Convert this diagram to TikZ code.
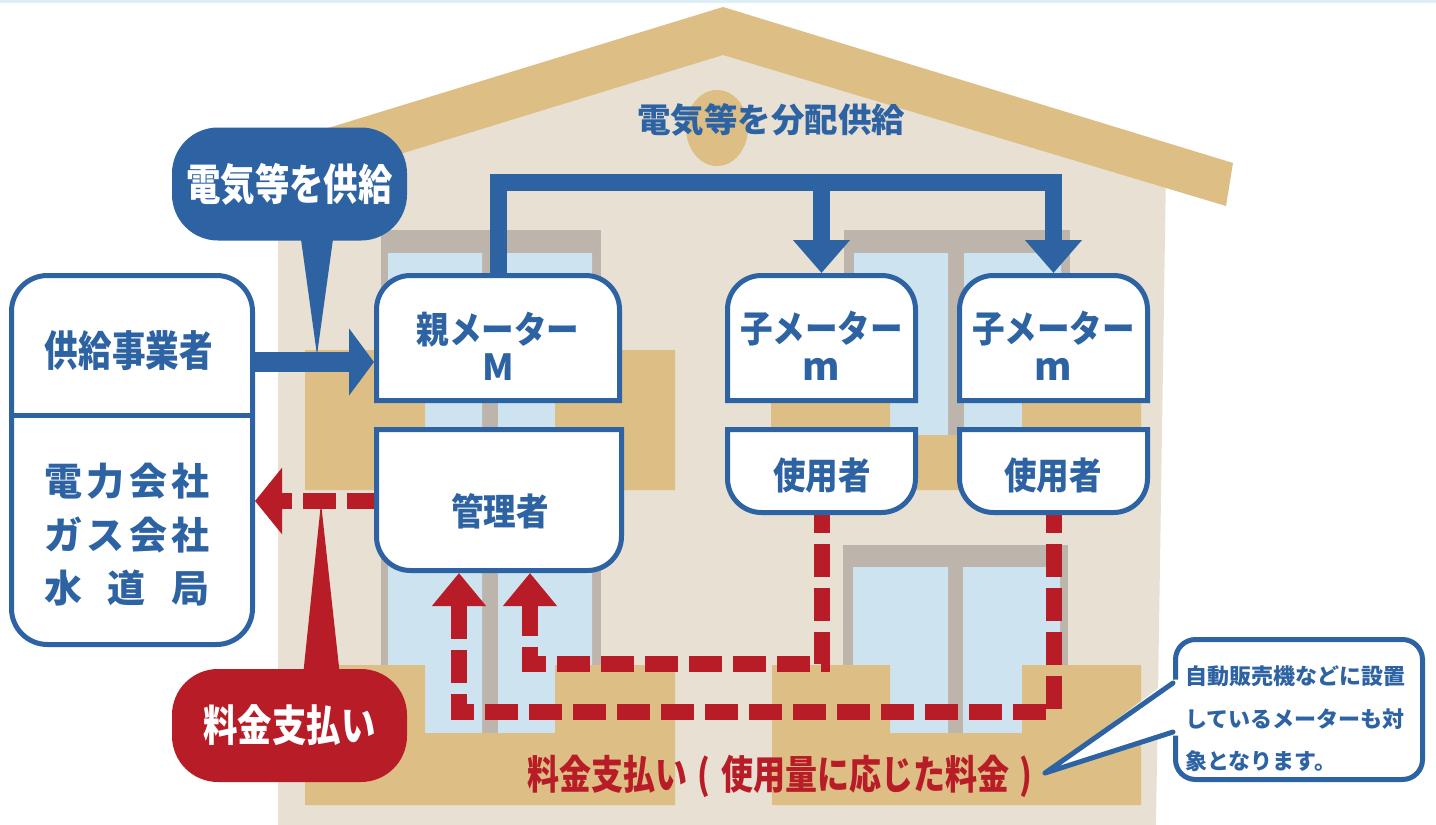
\documentclass[tikz,border=0pt]{standalone}
\usepackage{fontspec}
\usetikzlibrary{arrows.meta}
\newfontfamily\jp{Noto Sans CJK JP}
\newfontfamily\jpn{Noto Sans CJK JP}[FakeStretch=0.88]
\newfontfamily\jpc{Noto Sans CJK JP}[FakeStretch=0.8]
\definecolor{mblue}{HTML}{2E63A3}
\definecolor{mred}{HTML}{B81C27}
\definecolor{roofc}{HTML}{DDBF86}
\definecolor{wallc}{HTML}{E7E0D3}
\definecolor{framec}{HTML}{BDB5AB}
\definecolor{glassc}{HTML}{CDE4F0}
\definecolor{rulec}{HTML}{DDEEF8}

% meter box outline with rounded top corners: x1, y1, x2, y2
\newcommand\roundtop[4]{\filldraw[boxline] (#1,#4) -- (#1,{#2+34}) arc[start angle=180,end angle=90,radius=34pt] -- ({#3-34},#2) arc[start angle=90,end angle=0,radius=34pt] -- (#3,#4) -- cycle;}
% person box outline with rounded bottom corners: x1, y1, x2, y2
\newcommand\roundbot[4]{\filldraw[boxline] (#1,#2) -- (#1,{#4-34}) arc[start angle=180,end angle=270,radius=34pt] -- ({#3-34},#4) arc[start angle=270,end angle=360,radius=34pt] -- (#3,#2) -- cycle;}
% balcony slab with a notch where the window shows: x1, x2, top, bottom, notch x1, notch x2, notch bottom
\newcommand\balcony[7]{\fill[roofc] (#1,#3) -- (#5,#3) -- (#5,#7) -- (#6,#7) -- (#6,#3) -- (#2,#3) -- (#2,#4) -- (#1,#4) -- cycle;}
% Latin letters under the meter names
\newcommand\bigM{{\jp\bfseries\fontsize{36}{36}\selectfont M}}
\newcommand\smallm{{\jp\bfseries\fontsize{38}{36}\selectfont m}}

\begin{document}
\begin{tikzpicture}[x=1pt,y=-1pt,
  boxline/.style={draw=mblue,line width=5pt,fill=white,line join=miter},
  anchorbox/.style={rectangle,inner sep=0pt,outer sep=2.5pt},
  boxtext/.style={inner sep=0pt,text=mblue,align=center,font=\jpn\bfseries\fontsize{37}{37}\selectfont},
  bubble/.style={rectangle,rounded corners=46pt,minimum width=235pt,minimum height=113pt,inner sep=0pt,text=white,font=\jpc\bfseries\fontsize{43}{43}\selectfont},
  pipe/.style={draw=mblue,line width=17pt,line join=miter,-{Triangle[length=33pt,width=55pt]}},
  supplyarrow/.style={draw=mblue,line width=20pt,-{Triangle[length=25pt,width=66pt]}},
  paydash/.style={draw=mred,line width=16pt,line join=miter,dash pattern=on 33pt off 11pt}
]
\useasboundingbox[fill=white] (0,0) rectangle (1436,825);
\fill[rulec] (0,0) rectangle (1436,2.5);

% house: wall, vent, roof
\fill[wallc] (278,825) -- (278,170) -- (723,45) -- (1166,170) -- (1156,825) -- cycle;
\fill[roofc] (717,128) ellipse [x radius=31pt,y radius=38pt];
\fill[roofc] (315,132) -- (723,7) -- (1233,163) -- (1226,206) -- (723,55) -- (322,178) -- cycle;

% windows
\fill[framec] (381,230) rectangle (601,760);
\fill[glassc] (388,253) rectangle (482,760) (498,253) rectangle (592,760);
\fill[framec] (844,230) rectangle (1070,480);
\fill[glassc] (854,253) rectangle (948,480) (964,253) rectangle (1061,480);
\fill[framec] (843,545) rectangle (1068,760);
\fill[glassc] (853,567) rectangle (948,760) (963,567) rectangle (1060,760);

% balconies
\balcony{305}{675}{350}{490}{425}{555}{435}
\balcony{771}{1141}{350}{490}{890}{1022}{435}
\balcony{305}{675}{665}{805}{425}{555}{733}
\balcony{772}{1141}{665}{805}{890}{1022}{733}

\node[inner sep=0pt,text=mblue,font=\jp\bfseries\fontsize{33.5}{33.5}\selectfont] (distlabel) at (771,120) {電気等を分配供給};
\node[inner sep=0pt,text=mred,font=\jpc\bfseries\fontsize{40}{40}\selectfont] (usagetext) at (780,776) {料金支払い\kern10pt(\kern11pt使用量に応じた料金\kern10pt)};

% box anchors
\node[anchorbox,minimum width=243pt,minimum height=125pt] (pm) at (498,338) {};
\node[anchorbox,minimum width=188pt,minimum height=125pt] (c1) at (821.5,338) {};
\node[anchorbox,minimum width=188pt,minimum height=125pt] (c2) at (1053.5,338) {};
\node[anchorbox,minimum width=245pt,minimum height=141pt] (mg) at (499,500) {};
\node[anchorbox,minimum width=188pt,minimum height=83pt] (u1) at (821.5,471) {};
\node[anchorbox,minimum width=188pt,minimum height=83pt] (u2) at (1053.5,471) {};
\node[anchorbox,draw=mblue,line width=5pt,fill=white,rounded corners=36pt,minimum width=241pt,minimum height=369pt] (lb) at (132,460) {};
\coordinate (divrow) at (0,415);
\draw[mblue,line width=5pt] (lb.west |- divrow) -- (lb.east |- divrow);

% supply and distribution
\coordinate (bus) at (0,182);
\coordinate (supplyrow) at (0,362);
\draw[supplyarrow] (lb.east |- supplyrow) -- (pm.west |- supplyrow);
\draw[pipe] (pm.north) -- (pm.north |- bus) -- (c2.north |- bus) -- (c2.north);
\draw[pipe] (c1.north |- bus) -- (c1.north);

% payments
\coordinate (payrow) at (0,501);
\coordinate (rowA) at (0,664);
\coordinate (rowB) at (0,712);
\coordinate (mgA) at ([xshift=31pt]mg.south);
\coordinate (mgB) at ([xshift=-40pt]mg.south);
\draw[paydash,dash phase=21pt,{Triangle[length=27pt,width=65pt]}-] (lb.east |- payrow) -- (mg.west |- payrow);
\draw[paydash,dash phase=15pt,-{Triangle[length=33pt,width=52pt]}] (u1.south) -- (u1.south |- rowA) -- (mgA |- rowA) -- (mgA);
\draw[paydash,dash phase=15pt,-{Triangle[length=33pt,width=52pt]}] (u2.south) -- (u2.south |- rowB) -- (mgB |- rowB) -- (mgB);

% box outlines
\roundtop{376.5}{275.5}{619.5}{400.5}
\roundtop{727.5}{275.5}{915.5}{400.5}
\roundtop{959.5}{275.5}{1147.5}{400.5}
\roundbot{376.5}{429.5}{621.5}{570.5}
\roundbot{727.5}{429.5}{915.5}{512.5}
\roundbot{959.5}{429.5}{1147.5}{512.5}

% box labels
\node[boxtext] (pmtext) at (498,330) {親メーター};
\node[boxtext] (pmletter) at (498,367) {\bigM};
\node[boxtext] (c1text) at (821.5,329) {子メーター};
\node[boxtext] (c1letter) at (821.5,369) {\smallm};
\node[boxtext] (c2text) at (1053.5,329) {子メーター};
\node[boxtext] (c2letter) at (1053.5,369) {\smallm};
\node[boxtext] (mgtext) at (500,511) {管理者};
\node[boxtext] (u1text) at (822,475) {使用者};
\node[boxtext] (u2text) at (1053,475) {使用者};
\node[boxtext,font=\jpc\bfseries\fontsize{42}{42}\selectfont] (suppliertext) at (129,351) {供給事業者};
\node[boxtext,font=\jp\bfseries\fontsize{38}{53.5}\selectfont] (utiltext) at (127,535)
  {\makebox[165pt][s]{電\hfill 力\hfill 会\hfill 社}\\\makebox[165pt][s]{ガ\hfill ス\hfill 会\hfill 社}\\\makebox[165pt][s]{水\hfill 道\hfill 局}};

% speech bubbles
\coordinate (supplytip) at (317,355);
\fill[mblue] (300,232) -- (supplytip) -- (334,232) -- cycle;
\node[bubble,fill=mblue] (supplybubble) at (289.5,184) {電気等を供給};
\coordinate (paytip) at (321,503);
\fill[mred] (303,676) -- (paytip) -- (340,676) -- cycle;
\node[bubble,fill=mred] (paybubble) at (289.5,725.5) {料金支払い};

% note callout
\node[draw=mblue,line width=5pt,fill=white,rounded corners=20pt,minimum width=247pt,minimum height=140pt,inner sep=0pt] (vend) at (1299,709.5) {};
\coordinate (notetip) at (1045,773);
\fill[white] ([yshift=30pt,xshift=-3pt]vend.west) -- (notetip) -- ([yshift=-26pt,xshift=-3pt]vend.west) -- ([yshift=-26pt,xshift=6pt]vend.west) -- ([yshift=30pt,xshift=6pt]vend.west) -- cycle;
\draw[mblue,line width=5pt,line join=round,line cap=round] ([yshift=26.5pt]vend.west) -- (notetip) -- ([yshift=-22.5pt]vend.west);
\node[inner sep=0pt,anchor=west,align=left,text=mblue,font=\jp\bfseries\fontsize{22}{42.5}\selectfont] (vendtext) at (1185,719) {自動販売機などに設置\\しているメーターも対\\象となります。};
\end{tikzpicture}
\end{document}
